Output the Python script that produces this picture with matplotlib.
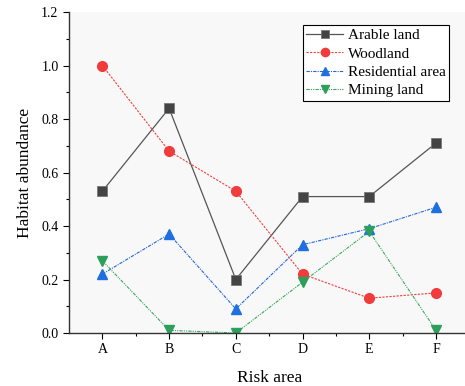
import matplotlib.pyplot as plt

plt.rcParams["font.family"] = ["Liberation Serif", "DejaVu Serif"]

areas = ["A", "B", "C", "D", "E", "F"]
arable = [0.53, 0.84, 0.20, 0.51, 0.51, 0.71]
woodland = [1.00, 0.68, 0.53, 0.22, 0.13, 0.15]
residential = [0.22, 0.37, 0.09, 0.33, 0.39, 0.47]
mining = [0.27, 0.01, 0.00, 0.19, 0.38, 0.01]

fig = plt.figure(figsize=(4.65, 3.86), dpi=100)
ax = fig.add_axes([0.1484, 0.1373, 0.861, 0.8316])
ax.set_facecolor("#f8f8f8")

x = list(range(len(areas)))
ax.plot(x, arable, color="#555555", lw=0.9, ls="-", marker="s", ms=6.5,
        mfc="#444444", mec="#777777", mew=0.6, label="Arable land")
ax.plot(x, woodland, color="#f04040", lw=0.8, ls=(0, (2, 1.2)), marker="o", ms=7,
        mfc="#f03c3c", mec="#f03c3c", label="Woodland")
ax.plot(x, residential, color="#2468d8", lw=0.8, ls=(0, (3, 1, 1, 1)), marker="^", ms=7.5,
        mfc="#1f6fe0", mec="#1f6fe0", label="Residential area")
ax.plot(x, mining, color="#3aa860", lw=0.8, ls=(0, (3, 1, 1, 1, 1, 1)), marker="v", ms=7.5,
        mfc="#2ca05a", mec="#2ca05a", label="Mining land")

ax.set_xlim(-0.5, 5.5)
ax.set_ylim(0, 1.2)
ax.set_xticks(x)
ax.set_xticklabels(areas)
ax.set_xticks([i + 0.5 for i in x], minor=True)
ax.set_yticks([0.0, 0.2, 0.4, 0.6, 0.8, 1.0, 1.2])
ax.set_yticklabels(["0.0", "0.2", "0.4", "0.6", "0.8", "1.0", "1.2"])
ax.set_yticks([0.1, 0.3, 0.5, 0.7, 0.9, 1.1], minor=True)
ax.tick_params(axis="both", which="major", direction="out", length=4, width=0.8, labelsize=10)
ax.tick_params(axis="both", which="minor", direction="out", length=2.5, width=0.8)
for s in ["top", "right"]:
    ax.spines[s].set_visible(False)
for s in ["left", "bottom"]:
    ax.spines[s].set_linewidth(1.0)
    ax.spines[s].set_color("#333333")

ax.set_xlabel("Risk area", fontsize=12.5, labelpad=10)
ax.set_ylabel("Habitat abundance", fontsize=12.5, labelpad=6)

leg = ax.legend(loc="upper right", bbox_to_anchor=(0.95, 0.96), fontsize=11,
                frameon=True, fancybox=False, edgecolor="black", framealpha=1,
                handlelength=2.4, handletextpad=0.3, borderpad=0.25, labelspacing=0.3,
                borderaxespad=0, markerscale=0.85)
leg.get_frame().set_linewidth(0.8)

fig.savefig("out.png", dpi=100)
